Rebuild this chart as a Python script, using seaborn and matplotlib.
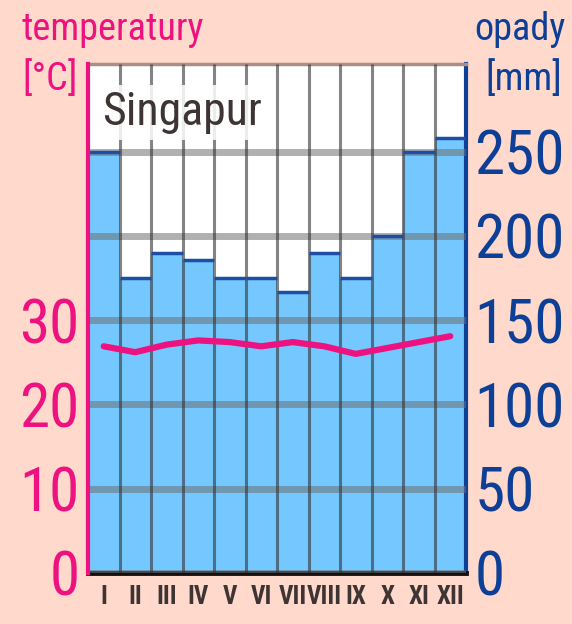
import numpy as np
import matplotlib
matplotlib.use("Agg")
import matplotlib.pyplot as plt
import seaborn as sns

# --- data (Singapur climate chart) ---
months = ["I", "II", "III", "IV", "V", "VI", "VII", "VIII", "IX", "X", "XI", "XII"]
precip_mm = [250, 175, 190, 186, 175, 175, 167, 190, 175, 200, 250, 258]
temp_c = [26.9, 26.2, 27.1, 27.6, 27.4, 26.9, 27.4, 26.9, 26.0, 26.7, 27.4, 28.1]
precip_ticks = [0, 50, 100, 150, 200, 250]
temp_ticks = [0, 10, 20, 30]

# --- style ---
sns.set_style("white")
plt.rcParams["font.family"] = ["Roboto Condensed", "DejaVu Sans"]

BG = "#FFDACC"
PINK = "#EE1280"
BLUE = "#0D3F96"
BAR = "#74C8FF"
GREY_TXT = "#3E3434"

fig = plt.figure(figsize=(5.72, 6.24), dpi=100, facecolor=BG)
W, H = 572, 624
ax = fig.add_axes([88 / W, 1 - 573 / H, (466 - 88) / W, (573 - 64) / H])
ax.set_facecolor("white")

# precipitation bars
sns.barplot(x=months, y=precip_mm, color=BAR, width=1.0, saturation=1,
            linewidth=0, ax=ax, zorder=2)
x = np.arange(len(months))
ax.hlines(precip_mm, x - 0.5, x + 0.5, color="#1E4EA3", lw=2.5, zorder=4)
ax.vlines(np.arange(0.5, 11.5, 1), 0, 302, color="#333333", alpha=0.6, lw=2.2, zorder=3)

# temperature line on twin axis (left)
ax_t = ax.twinx()
sns.lineplot(x=x, y=temp_c, color=PINK, lw=4.5, ax=ax_t)

ax.set_xlim(-0.5, 11.5)
ax.set_ylim(0, 302)
ax.set_yticks(precip_ticks)
ax.yaxis.tick_right()
ax.grid(axis="y", color="#707070", alpha=0.55, lw=5)
ax.grid(axis="x", visible=False)
ax.set_axisbelow(False)
ax.set_xlabel("")
ax.set_ylabel("")
ax.tick_params(axis="y", length=0, pad=6, labelsize=44, labelcolor=BLUE)
ax.tick_params(axis="x", length=0, pad=9, labelsize=18, labelcolor=GREY_TXT)
for lbl in ax.get_xticklabels():
    lbl.set_fontweight("bold")

ax.spines["left"].set_visible(False)
ax.spines["right"].set_color(BLUE)
ax.spines["right"].set_linewidth(3)
ax.spines["bottom"].set_color("#151010")
ax.spines["bottom"].set_linewidth(3.5)
ax.spines["top"].set_color("#A89088")
ax.spines["top"].set_linewidth(2.5)

ax_t.set_ylim(0, 302 / 5)
ax_t.set_yticks(temp_ticks)
ax_t.yaxis.tick_left()
ax_t.tick_params(axis="y", length=0, pad=6, labelsize=44, labelcolor=PINK)
ax_t.set_xlabel("")
ax_t.set_ylabel("")
for s in ["right", "top", "bottom"]:
    ax_t.spines[s].set_visible(False)
ax_t.spines["left"].set_color(PINK)
ax_t.spines["left"].set_linewidth(3)

# titles
fig.text(22 / W, 1 - 40 / H, "temperatury", color=PINK, fontsize=27.5, va="baseline", ha="left")
fig.text(22 / W, 1 - 90 / H, "[°C]", color=PINK, fontsize=27.5, va="baseline", ha="left")
fig.text(566 / W, 1 - 40 / H, "opady", color=BLUE, fontsize=27.5, va="baseline", ha="right")
fig.text(562 / W, 1 - 90 / H, "[mm]", color=BLUE, fontsize=27.5, va="baseline", ha="right")

ax_t.text(102 / W, 1 - 125 / H, "Singapur", transform=fig.transFigure, color=GREY_TXT,
          fontsize=33, va="baseline", ha="left", zorder=10,
          bbox=dict(facecolor="white", edgecolor="none", alpha=0.85, boxstyle="square,pad=0.12"))

fig.savefig("out.png", dpi=100, facecolor=BG)
